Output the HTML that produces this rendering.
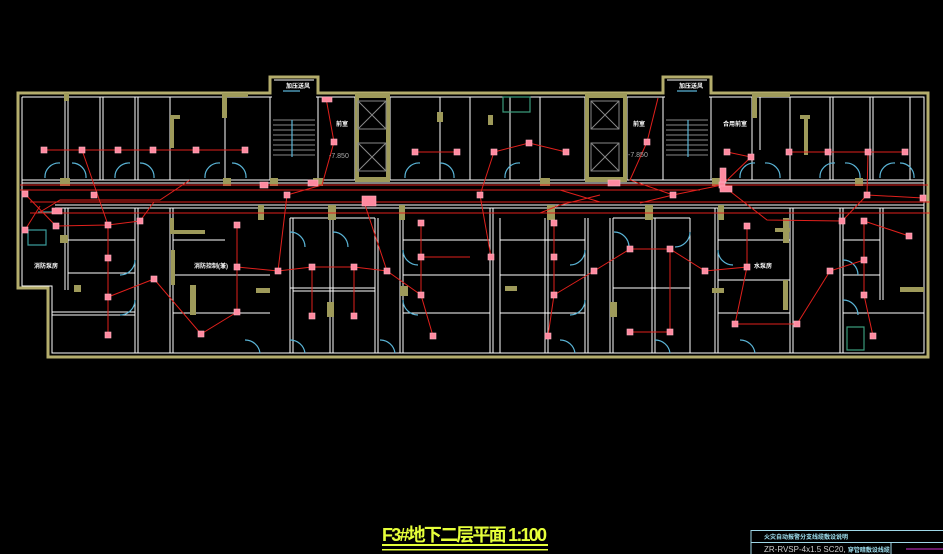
<!DOCTYPE html>
<html><head><meta charset="utf-8"><style>
html,body{margin:0;padding:0;background:#000;}
svg{display:block}
</style></head><body>
<svg width="943" height="554" viewBox="0 0 943 554" xmlns="http://www.w3.org/2000/svg">
<rect width="943" height="554" fill="#000"/>
<g fill="none" stroke="#b4ad6c" stroke-width="3">
<path d="M18,93 H270 V77 H318 V93 H663 V77 H711 V93 H928 V357 H48 V288 H18 Z"/>
</g>
<g fill="none" stroke="#fff" stroke-width="1">
<path d="M22,97 H272 M316,97 H665 M709,97 H924 V353 H52 V286 H22 V97"/>
<path d="M274,80 H314 M667,80 H707"/>
<path d="M65,97 V180 M68,97 V180 M100,97 V180 M103,97 V180 M135,97 V180 M138,97 V180 M170,97 V180 M225,97 V180 M270,97 V180 M318,97 V180"/>
<path d="M355,97 V180 M390,97 V180 M440,97 V180 M470,97 V180 M510,97 V180 M540,97 V180 M585,97 V180 M627,97 V180 M663,97 V180 M711,97 V180"/>
<path d="M752,97 V180 M760,97 V150 M790,97 V180 M830,97 V180 M833,97 V180 M870,97 V180 M873,97 V180 M910,97 V180"/>
<path d="M22,180 H924 M22,183 H924 M55,205 H924 M55,208 H924"/>
<path d="M65,208 V290 M68,208 V290 M135,208 V353 M138,208 V353 M170,208 V353 M173,208 V353 M290,218 V353 M293,218 V353 M330,218 V353 M333,218 V353 M375,218 V353 M378,218 V353 M400,208 V353 M403,208 V353 M490,208 V353 M493,208 V353 M500,218 V353 M545,218 V353 M548,218 V353 M585,218 V353 M588,218 V353 M610,218 V353 M613,218 V353 M652,218 V353 M655,218 V353 M690,218 V353 M715,208 V353 M718,208 V353 M790,208 V353 M793,208 V353 M840,208 V353 M843,208 V353 M880,208 V300 M883,208 V300"/>
<path d="M68,240 H135 M68,273 H135 M52,312 H135 M52,315 H135 M173,240 H225 M173,275 H270 M173,313 H270 M290,218 H375 M290,288 H375 M293,291 H375 M403,240 H490 M403,275 H490 M403,313 H490 M500,240 H585 M500,275 H585 M500,313 H585 M613,218 H690 M613,288 H690 M718,240 H790 M718,280 H790 M718,313 H790 M843,240 H880 M843,275 H880 M843,313 H924"/>
</g>
<g fill="#9e9a5a">
<rect x="64" y="93" width="5" height="8"/><rect x="222" y="93" width="26" height="4"/><rect x="222" y="93" width="5" height="25"/>
<rect x="170" y="115" width="4" height="33"/><rect x="170" y="115" width="10" height="4"/>
<rect x="355" y="93" width="35" height="5"/><rect x="355" y="93" width="4" height="88"/><rect x="386" y="93" width="4" height="88"/><rect x="355" y="177" width="35" height="5"/>
<rect x="585" y="93" width="42" height="5"/><rect x="585" y="93" width="4" height="88"/><rect x="623" y="93" width="4" height="88"/><rect x="585" y="177" width="42" height="5"/>
<rect x="752" y="93" width="38" height="4"/><rect x="752" y="93" width="5" height="25"/>
<rect x="804" y="115" width="4" height="40"/><rect x="800" y="115" width="10" height="4"/>
<rect x="488" y="115" width="5" height="10"/><rect x="437" y="112" width="6" height="10"/>
<rect x="60" y="178" width="10" height="8"/><rect x="223" y="178" width="8" height="8"/><rect x="270" y="178" width="8" height="8"/><rect x="313" y="178" width="10" height="8"/>
<rect x="258" y="205" width="6" height="15"/><rect x="328" y="205" width="8" height="15"/><rect x="399" y="205" width="6" height="15"/><rect x="547" y="205" width="8" height="15"/><rect x="645" y="205" width="8" height="15"/><rect x="718" y="205" width="6" height="15"/>
<rect x="60" y="235" width="8" height="8"/><rect x="74" y="285" width="7" height="7"/><rect x="170" y="218" width="4" height="15"/><rect x="170" y="230" width="35" height="4"/>
<rect x="256" y="288" width="14" height="5"/><rect x="327" y="302" width="7" height="15"/><rect x="400" y="286" width="8" height="10"/><rect x="505" y="286" width="12" height="5"/>
<rect x="610" y="302" width="7" height="15"/><rect x="712" y="288" width="12" height="5"/><rect x="783" y="218" width="6" height="25"/><rect x="775" y="228" width="15" height="4"/>
<rect x="783" y="280" width="5" height="30"/><rect x="900" y="287" width="24" height="5"/><rect x="171" y="250" width="4" height="35"/><rect x="190" y="285" width="6" height="30"/>
<rect x="855" y="178" width="8" height="8"/><rect x="712" y="178" width="8" height="8"/><rect x="540" y="178" width="10" height="8"/>
</g>
<g fill="none" stroke="#888" stroke-width="1">
<rect x="358" y="101" width="28" height="28"/><path d="M358,101 L386,129 M386,101 L358,129"/>
<rect x="358" y="143" width="28" height="28"/><path d="M358,143 L386,171 M386,143 L358,171"/>
<rect x="591" y="101" width="28" height="28"/><path d="M591,101 L619,129 M619,101 L591,129"/>
<rect x="591" y="143" width="28" height="28"/><path d="M591,143 L619,171 M619,143 L591,171"/>
<path d="M273,120 H315 M273,125 H315 M273,130 H315 M273,135 H315 M273,140 H315 M273,145 H315 M273,150 H315 M273,155 H315"/>
<path d="M666,120 H708 M666,125 H708 M666,130 H708 M666,135 H708 M666,140 H708 M666,145 H708 M666,150 H708 M666,155 H708"/>
</g>
<g fill="none" stroke="#5ab4d6" stroke-width="1.2">
<path d="M292,120 V157 M688,120 V157 M283,91 H300 M677,91 H697"/>
<path d="M45,178 A14,14 0 0 1 60,163 M72,163 A14,14 0 0 1 86,178 M115,178 A14,14 0 0 1 130,163 M140,163 A14,14 0 0 1 154,178 M205,178 A14,14 0 0 1 220,163 M232,163 A14,14 0 0 1 246,178"/>
<path d="M405,178 A14,14 0 0 1 420,163 M440,163 A14,14 0 0 1 454,178 M505,178 A14,14 0 0 1 520,163 M740,178 A14,14 0 0 1 755,163 M765,163 A14,14 0 0 1 780,178 M820,178 A14,14 0 0 1 835,163 M845,163 A14,14 0 0 1 860,178 M880,178 A14,14 0 0 1 895,163 M900,163 A14,14 0 0 1 914,178"/>
<path d="M135,260 A15,15 0 0 1 120,275 M135,300 A15,15 0 0 1 120,315 M290,232 A15,15 0 0 1 305,247 M333,232 A15,15 0 0 1 348,247 M245,340 A15,15 0 0 1 260,353 M290,340 A15,15 0 0 1 305,353 M380,340 A15,15 0 0 1 395,353"/>
<path d="M403,250 A15,15 0 0 0 418,265 M403,300 A15,15 0 0 0 418,315 M585,250 A15,15 0 0 1 570,265 M585,300 A15,15 0 0 1 570,315 M614,232 A15,15 0 0 1 629,247 M690,232 A15,15 0 0 1 675,247 M560,340 A15,15 0 0 1 575,353 M655,340 A15,15 0 0 1 670,353 M718,250 A15,15 0 0 0 733,265 M740,340 A15,15 0 0 1 755,353 M843,260 A15,15 0 0 1 858,275 M843,300 A15,15 0 0 1 858,315"/>
<path d="M28,230 H46 V245 H28 Z M38,212 H55" stroke="#3a9a9a"/>
<path d="M503,97 H530 V112 H503 Z M847,327 H864 V350 H847 Z" stroke="#3a9a7a"/>
</g>
<g fill="none" stroke="#e0201c" stroke-width="1">
<path d="M20,185 H928 M20,190 H700 M30,202 H930 M30,213 H930"/>
<path d="M44,150 H245 M82,150 L108,225 M415,152 H457 M494,152 L529,143 L566,152 M494,152 L480,195 L491,257 M789,152 H905 M868,152 L867,195"/>
<path d="M108,225 V335 M56,226 L25,194 M56,226 L108,225 L140,221 L154,202 M108,297 L154,279 L201,334 L237,312 V225 M237,267 L278,271 L312,267 L354,267 L387,271 L421,295 M278,271 L287,195 L322,185 M312,267 V316 M354,267 V316 M387,271 L365,205 M421,223 V295 L433,336 M421,257 H470"/>
<path d="M334,142 L322,185 M334,142 L326,98 M554,223 V295 L548,336 M554,295 L594,271 L630,249 H670 L705,271 L747,267 V226 M670,249 V332 H630 M747,267 L735,324 H797 L830,271 L864,260 V221 M864,260 V295 L873,336 M864,221 L909,236 M842,221 L867,195 L923,198 M647,142 L630,180 L673,195 L722,185 M647,142 L658,98 M727,152 L751,157 L722,185 M722,185 L767,220 L842,221"/>
<path d="M25,230 L40,206 M540,213 L560,205 L600,195 M640,203 L673,195 M40,212 L60,200 L160,200 L190,180 M600,202 L560,190"/>
</g>
<g fill="#ff8aa0" stroke="#ffb0c0" stroke-width="0.6">
<rect x="41" y="147" width="6" height="6"/><rect x="79" y="147" width="6" height="6"/><rect x="115" y="147" width="6" height="6"/><rect x="150" y="147" width="6" height="6"/><rect x="193" y="147" width="6" height="6"/><rect x="242" y="147" width="6" height="6"/>
<rect x="412" y="149" width="6" height="6"/><rect x="454" y="149" width="6" height="6"/><rect x="491" y="149" width="6" height="6"/><rect x="526" y="140" width="6" height="6"/><rect x="563" y="149" width="6" height="6"/>
<rect x="724" y="149" width="6" height="6"/><rect x="748" y="154" width="6" height="6"/><rect x="786" y="149" width="6" height="6"/><rect x="825" y="149" width="6" height="6"/><rect x="865" y="149" width="6" height="6"/><rect x="902" y="149" width="6" height="6"/>
<rect x="105" y="222" width="6" height="6"/><rect x="105" y="255" width="6" height="6"/><rect x="105" y="294" width="6" height="6"/><rect x="105" y="332" width="6" height="6"/><rect x="53" y="223" width="6" height="6"/><rect x="151" y="276" width="6" height="6"/><rect x="198" y="331" width="6" height="6"/>
<rect x="234" y="222" width="6" height="6"/><rect x="234" y="264" width="6" height="6"/><rect x="234" y="309" width="6" height="6"/><rect x="275" y="268" width="6" height="6"/><rect x="309" y="264" width="6" height="6"/><rect x="351" y="264" width="6" height="6"/><rect x="309" y="313" width="6" height="6"/><rect x="351" y="313" width="6" height="6"/><rect x="384" y="268" width="6" height="6"/>
<rect x="418" y="220" width="6" height="6"/><rect x="418" y="254" width="6" height="6"/><rect x="418" y="292" width="6" height="6"/><rect x="430" y="333" width="6" height="6"/><rect x="91" y="192" width="6" height="6"/><rect x="137" y="218" width="6" height="6"/><rect x="22" y="191" width="6" height="6"/><rect x="22" y="227" width="6" height="6"/><rect x="284" y="192" width="6" height="6"/><rect x="331" y="139" width="6" height="6"/>
<rect x="477" y="192" width="6" height="6"/><rect x="488" y="254" width="6" height="6"/><rect x="551" y="220" width="6" height="6"/><rect x="551" y="254" width="6" height="6"/><rect x="551" y="292" width="6" height="6"/><rect x="545" y="333" width="6" height="6"/><rect x="591" y="268" width="6" height="6"/><rect x="627" y="246" width="6" height="6"/><rect x="667" y="246" width="6" height="6"/><rect x="702" y="268" width="6" height="6"/>
<rect x="744" y="223" width="6" height="6"/><rect x="744" y="264" width="6" height="6"/><rect x="732" y="321" width="6" height="6"/><rect x="794" y="321" width="6" height="6"/><rect x="627" y="329" width="6" height="6"/><rect x="667" y="329" width="6" height="6"/><rect x="827" y="268" width="6" height="6"/><rect x="861" y="257" width="6" height="6"/><rect x="861" y="218" width="6" height="6"/><rect x="861" y="292" width="6" height="6"/><rect x="870" y="333" width="6" height="6"/><rect x="906" y="233" width="6" height="6"/><rect x="864" y="192" width="6" height="6"/><rect x="920" y="195" width="6" height="6"/><rect x="839" y="218" width="6" height="6"/><rect x="644" y="139" width="6" height="6"/><rect x="670" y="192" width="6" height="6"/><rect x="719" y="182" width="6" height="6"/>
<rect x="260" y="182" width="8" height="6"/><rect x="308" y="180" width="10" height="6"/><rect x="362" y="196" width="14" height="10"/><rect x="52" y="208" width="10" height="6"/><rect x="608" y="180" width="12" height="6"/><rect x="720" y="168" width="6" height="14"/><rect x="720" y="186" width="12" height="6"/><rect x="322" y="97" width="10" height="5"/>
</g>
<g fill="#fff" font-family="Liberation Sans,'Noto Sans CJK SC',sans-serif" font-size="6" font-weight="bold">
<text x="34" y="268">消防泵房</text><text x="194" y="268">消防控制(兼)</text><text x="336" y="126">前室</text><text x="723" y="126">合用前室</text><text x="633" y="126">前室</text><text x="754" y="268">水泵房</text><text x="286" y="88">加压送风</text><text x="679" y="88">加压送风</text>
</g>
<g fill="#aaa" font-family="Liberation Sans,sans-serif" font-size="7"><text x="329" y="158">-7.850</text><text x="628" y="157">-7.850</text></g>
<text x="382" y="541" fill="#e6ff3a" font-family="Liberation Sans,'Noto Sans CJK SC',sans-serif" font-size="18" font-weight="bold" textLength="165">F3#地下二层平面 1:100</text>
<rect x="382" y="544" width="166" height="2" fill="#e6ff3a"/><rect x="382" y="549" width="166" height="1.5" fill="#e6ff3a"/>
<g fill="none" stroke="#9fd8e8" stroke-width="1"><path d="M751,554 V530.5 H943 M751,542.5 H943 M891,542.5 V554"/></g>
<line x1="906" y1="549" x2="943" y2="549" stroke="#d030d0" stroke-width="1"/>
<text x="764" y="539" fill="#9fe0f0" font-family="Liberation Sans,'Noto Sans CJK SC',sans-serif" font-size="6" font-weight="bold">火灾自动报警分支线缆敷设说明</text>
<text x="764" y="552" fill="#ccc" font-family="Liberation Sans,'Noto Sans CJK SC',sans-serif" font-size="8">ZR-RVSP-4x1.5 SC20, <tspan fill="#9fe0f0" font-size="6" font-weight="bold">穿管暗敷设线缆</tspan></text>
</svg>
</body></html>
